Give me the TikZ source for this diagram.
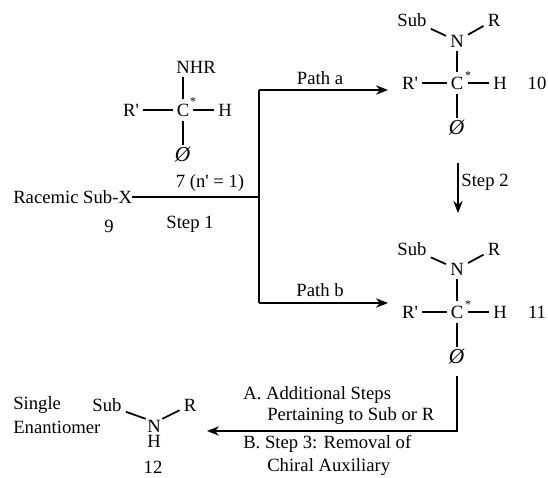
\documentclass[tikz,border=0pt]{standalone}
\usepackage{fontspec}
\setmainfont{Liberation Serif}
\usetikzlibrary{positioning,calc}
\usetikzlibrary{arrows.meta}
\newcommand{\ph}{\textit{\O}}
\newcommand{\pr}{\textquotesingle}
\tikzset{
  atom/.style={inner sep=3pt, font=\fontsize{14}{16}\selectfont},
  phenyl/.style={inner sep=2pt, font=\fontsize{16}{16}\selectfont},
  txt/.style={inner sep=0pt, anchor=west, font=\fontsize{14}{16}\selectfont},
  bond/.style={line width=1.3pt},
  path line/.style={line width=1.6pt},
  path arrow/.style={line width=1.6pt, -{Stealth[length=9pt,width=7pt]}},
  star/.style={inner sep=0pt, font=\fontsize{9}{9}\selectfont}
}
\begin{document}
\begin{tikzpicture}[x=.75pt,y=-.75pt]
        \useasboundingbox (0,0) rectangle (548,477);

        % compound 7
        \node[atom] (nhr) at (196,67) {NHR};
        \node[atom] (c7) at (183,110) {C};
        \node[star] (s7) at (193,102) {*};
        \node[atom] (rp7) at (131,110) {R\pr};
        \node[atom] (h7) at (225,110) {H};
        \node[phenyl] (ph7) at (183,155) {\ph};
        \node[atom] (lab7) at (210,183) {7 (n\pr{} = 1)};
        \draw[bond] (c7) -- (nhr.south -| c7);
        \draw[bond] (rp7) -- (c7);
        \draw[bond] (c7) -- (h7);
        \draw[bond] (c7) -- (ph7);

        % start
        \node[txt] (sub9) at (13,197) {Racemic Sub-X};
        \node[atom] (n9) at (109,226) {9};
        \node[atom] (st1) at (190,224) {Step 1};
        \coordinate (j0) at (259,197);
        \coordinate (ja) at (259,90);
        \coordinate (jb) at (259,303);
        \coordinate (ea) at (388,90);
        \coordinate (eb) at (388,303);
        \draw[path line] (sub9) -- (j0);
        \draw[path line] (ja) -- (jb);

        % compound 10
        \node[atom] (sub10) at (412,20) {Sub};
        \node[atom] (r10) at (494,20) {R};
        \node[atom] (n10) at (457,41) {N};
        \node[atom] (c10) at (457,83) {C};
        \node[star] (s10) at (468,76) {*};
        \node[atom] (rp10) at (410,83) {R\pr};
        \node[atom] (h10) at (500,83) {H};
        \node[atom] (n10l) at (537,83) {10};
        \node[phenyl] (ph10) at (457,128) {\ph};
        \draw[bond] (sub10) -- (n10);
        \draw[bond] (r10) -- (n10);
        \draw[bond] (n10) -- (c10);
        \draw[bond] (rp10) -- (c10);
        \draw[bond] (c10) -- (h10);
        \draw[bond] (c10) -- (ph10);

        % compound 11
        \node[atom] (sub11) at (412,249) {Sub};
        \node[atom] (r11) at (494,249) {R};
        \node[atom] (n11) at (457,269) {N};
        \node[atom] (c11) at (457,312) {C};
        \node[star] (s11) at (468,305) {*};
        \node[atom] (rp11) at (410,312) {R\pr};
        \node[atom] (h11) at (500,312) {H};
        \node[atom] (n11l) at (537,312) {11};
        \node[phenyl] (ph11) at (457,357) {\ph};
        \draw[bond] (sub11) -- (n11);
        \draw[bond] (r11) -- (n11);
        \draw[bond] (n11) -- (c11);
        \draw[bond] (rp11) -- (c11);
        \draw[bond] (c11) -- (h11);
        \draw[bond] (c11) -- (ph11);

        % paths
        \draw[path arrow] (ja) -- (ea);
        \node[atom] (patha) at (320,78) {Path a};
        \draw[path arrow] (jb) -- (eb);
        \node[atom] (pathb) at (320,290) {Path b};
        \coordinate (s2a) at (458,163);
        \coordinate (s2b) at (458,213);
        \draw[path arrow] (s2a) -- (s2b);
        \node[atom] (st2) at (485,182) {Step 2};

        % compound 12
        \node[txt] (sing) at (13,405) {Single};
        \node[txt] (enan) at (13,427) {Enantiomer};
        \node[atom] (sub12) at (107,405) {Sub};
        \node[atom] (r12) at (190,405) {R};
        \node[atom,inner sep=1pt,align=center,font=\fontsize{14}{11.2}\selectfont] (nh12) at (154,434) {N\\H};
        \node[atom,inner sep=0pt] (n12l) at (153,467) {12};
        \draw[bond] (sub12) -- (nh12.north west);
        \draw[bond] (r12) -- (nh12.north east);

        % last step
        \coordinate (k0) at (457,376);
        \coordinate (k1) at (457,431);
        \coordinate (k2) at (207,431);
        \draw[path arrow] (k0) -- (k1) -- (k2);
        \node[txt] (ta) at (243,395) {A. Additional Steps};
        \node[txt] (tp) at (267,416) {Pertaining to Sub or R};
        \node[txt] (tb) at (243,444) {B. Step 3: Removal of};
        \node[txt] (tc) at (267,467) {Chiral Auxiliary};
\end{tikzpicture}
\end{document}
